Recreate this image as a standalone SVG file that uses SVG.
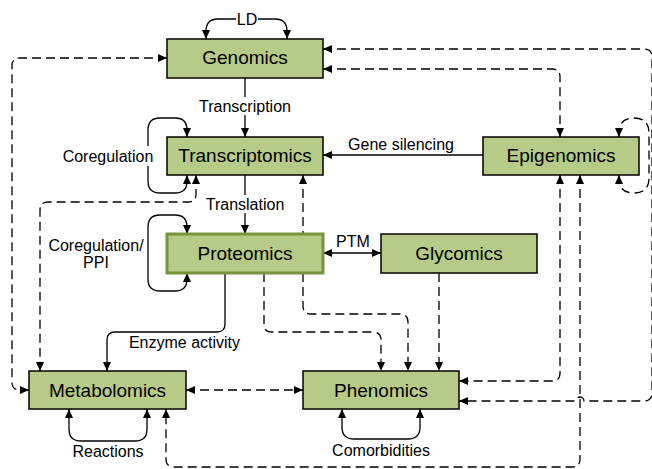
<svg xmlns="http://www.w3.org/2000/svg" width="652" height="469" viewBox="0 0 652 469">
<style>
.c{fill:none;stroke:#000;stroke-width:1.3}
.d{stroke-dasharray:9,5}
.b{marker-end:url(#a)}
.s{marker-start:url(#a)}
.n{fill:#b6cb88;stroke:#000;stroke-width:1.5}
.nt{font-family:"Liberation Sans",Arial,sans-serif;font-size:19px;text-anchor:middle;fill:#000}
.lt{font-family:"Liberation Sans",Arial,sans-serif;font-size:16px;text-anchor:middle;fill:#000}
.bg{fill:#fff}
</style>
<defs>
<marker id="a" viewBox="0 0 9 8" refX="9" refY="4" markerWidth="9" markerHeight="8" markerUnits="userSpaceOnUse" orient="auto-start-reverse">
<path d="M0,0 L9,4 L0,8 z" fill="#000"/>
</marker>
</defs>
<g id="connectors">
<path class="c b s" d="M206,39 V31 Q206,19 218,19 H275 Q287,19 287,31 V39"/>
<path class="c b" d="M245,78 V137"/>
<path class="c b" d="M245,175 V234"/>
<path class="c b s" d="M187,137 V130 Q187,118 175,118 H160 Q148,118 148,130 V181 Q148,193 160,193 H175 Q187,193 187,181 V175"/>
<path class="c b s" d="M187,234 V227 Q187,215 175,215 H160 Q148,215 148,227 V279 Q148,291 160,291 H175 Q187,291 187,279 V273"/>
<path class="c b" d="M483,155 H323"/>
<path class="c b s" d="M323,253 H381"/>
<path class="c b" d="M225,273 V324 Q225,332 217,332 H115 Q107,332 107,340 V371"/>
<path class="c b s" d="M69,409 V429 Q69,441 81,441 H135 Q147,441 147,429 V409"/>
<path class="c b s" d="M342,409 V427 Q342,439 354,439 H408 Q420,439 420,427 V409"/>
<path class="c d b s" d="M167,58 H20 Q12,58 12,66 V382 Q12,390 20,390 H29"/>
<path class="c d b s" d="M323,69 H552 Q560,69 560,77 V137"/>
<path class="c d b s" d="M323,49 H644 Q652,49 652,57 V393 Q652,401 644,401 H584 A4,4 0 0 0 576,401 H459"/>
<path class="c d b s" d="M619,137 V133 Q619,118 634,118 Q649,118 649,133 V178 Q649,193 634,193 Q619,193 619,179 V175"/>
<path class="c d b s" d="M196,175 V194 Q196,202 188,202 H48 Q40,202 40,210 V371"/>
<path class="c d b s" d="M303,175 V306 Q303,314 311,314 H400 Q408,314 408,322 V371"/>
<path class="c d b" d="M264,273 V324 Q264,332 272,332 H373 Q381,332 381,340 V371"/>
<path class="c d b" d="M439,273 V371"/>
<path class="c d b s" d="M560,175 V373 Q560,381 552,381 H459"/>
<path class="c d b s" d="M580,175 V459 Q580,467 572,467 H174 Q166,467 166,459 V409"/>
<path class="c d b s" d="M186,390 H303"/>
</g>
<g id="genomics"><rect class="n" x="167" y="39" width="156" height="39"/><text class="nt" x="245" y="64">Genomics</text></g>
<g id="transcriptomics"><rect class="n" x="167" y="137" width="156" height="38"/><text class="nt" x="245" y="162">Transcriptomics</text></g>
<g id="epigenomics"><rect class="n" x="483" y="137" width="156" height="38"/><text class="nt" x="561" y="162">Epigenomics</text></g>
<g id="proteomics"><rect class="n" x="167" y="234" width="156" height="39" style="stroke:#77933c;stroke-width:3"/><text class="nt" x="245" y="260">Proteomics</text></g>
<g id="glycomics"><rect class="n" x="381" y="234" width="156" height="39"/><text class="nt" x="459" y="260">Glycomics</text></g>
<g id="metabolomics"><rect class="n" x="29" y="371" width="157" height="38"/><text class="nt" x="107.5" y="397">Metabolomics</text></g>
<g id="phenomics"><rect class="n" x="303" y="371" width="156" height="38"/><text class="nt" x="381" y="397">Phenomics</text></g>
<g id="labels">
<rect class="bg" x="236" y="11" width="22" height="16"/><text class="lt" x="247" y="25">LD</text>
<rect class="bg" x="197" y="97" width="96" height="18"/><text class="lt" x="245" y="112">Transcription</text>
<rect class="bg" x="203" y="195" width="84" height="18"/><text class="lt" x="245" y="210">Translation</text>
<rect class="bg" x="60" y="146" width="96" height="20"/><text class="lt" x="108" y="162">Coregulation</text>
<text class="lt" x="96" y="251">Coregulation/</text>
<text class="lt" x="96" y="268">PPI</text>
<text class="lt" x="401" y="150">Gene silencing</text>
<text class="lt" x="353" y="247">PTM</text>
<text class="lt" x="184.5" y="348">Enzyme activity</text>
<text class="lt" x="108" y="457">Reactions</text>
<text class="lt" x="381" y="456">Comorbidities</text>
</g>
</svg>
